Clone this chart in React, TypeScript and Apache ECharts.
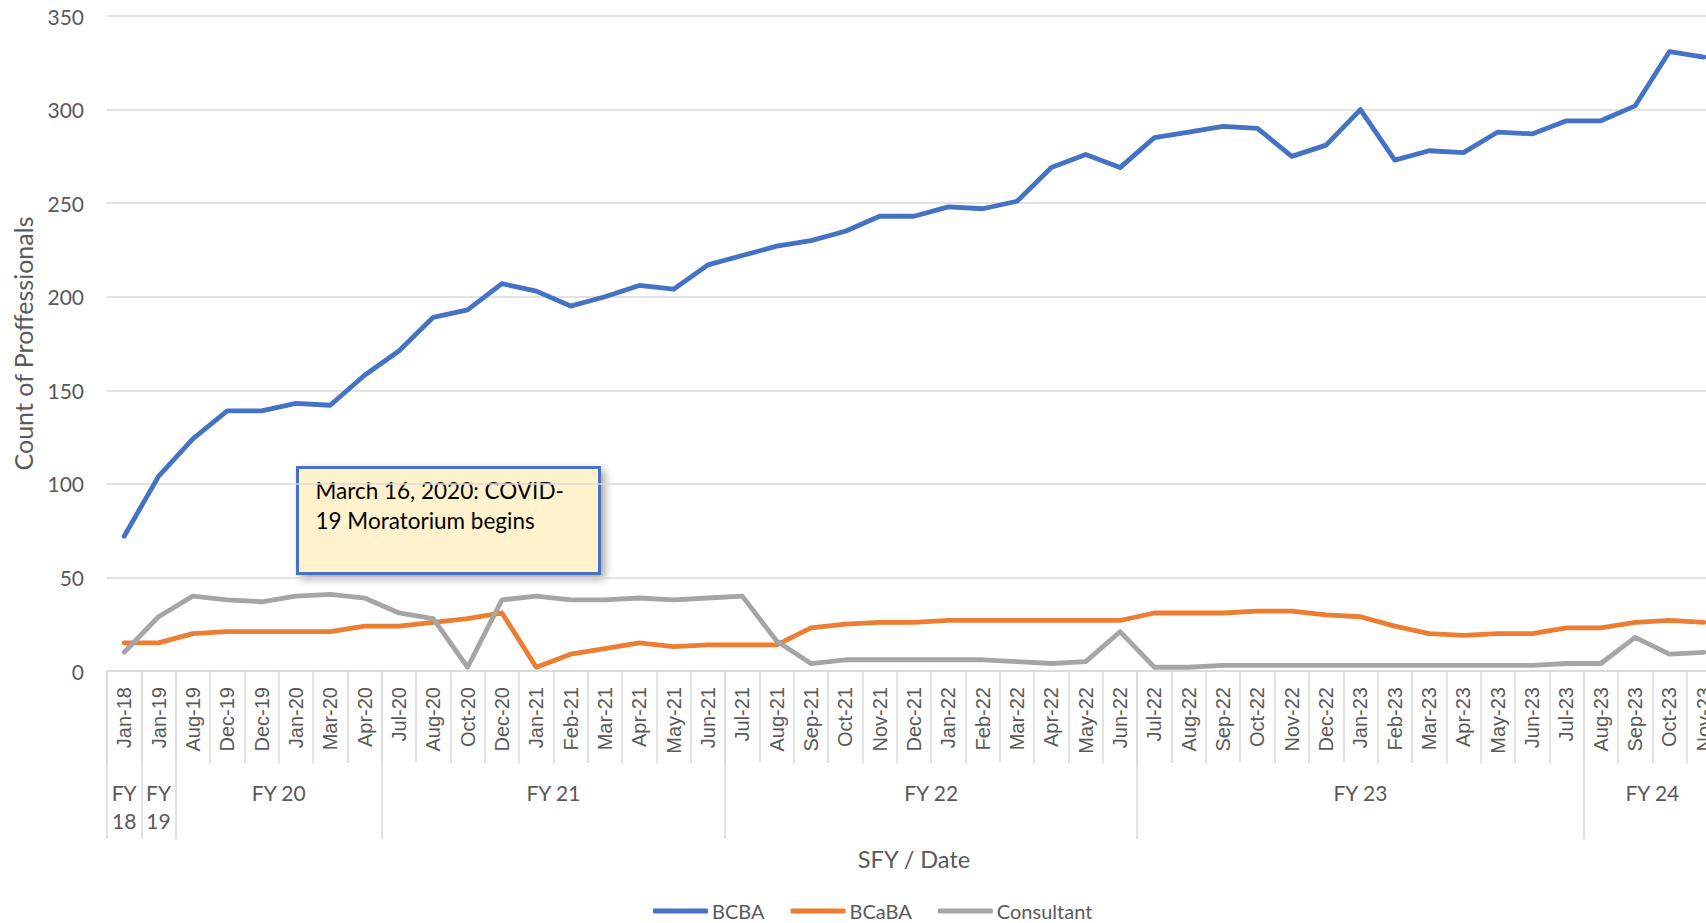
import React, { useEffect, useRef } from "react";
import * as echarts from "echarts";

const months = [
  "Jan-18", "Jan-19", "Aug-19", "Dec-19", "Dec-19", "Jan-20", "Mar-20", "Apr-20",
  "Jul-20", "Aug-20", "Oct-20", "Dec-20", "Jan-21", "Feb-21", "Mar-21", "Apr-21", "May-21", "Jun-21",
  "Jul-21", "Aug-21", "Sep-21", "Oct-21", "Nov-21", "Dec-21", "Jan-22", "Feb-22", "Mar-22", "Apr-22", "May-22", "Jun-22",
  "Jul-22", "Aug-22", "Sep-22", "Oct-22", "Nov-22", "Dec-22", "Jan-23", "Feb-23", "Mar-23", "Apr-23", "May-23", "Jun-23", "Jul-23",
  "Aug-23", "Sep-23", "Oct-23", "Nov-23",
];

const fyLabels = ["FY\n18", "FY\n19", "FY 20", "FY 21", "FY 22", "FY 23", "FY 24"];
const fySpans = [1, 1, 6, 10, 12, 13, 4];

const bcba = [
  72, 104, 124, 139, 139, 143, 142, 158,
  171, 189, 193, 207, 203, 195, 200, 206, 204, 217,
  222, 227, 230, 235, 243, 243, 248, 247, 251, 269, 276, 269,
  285, 288, 291, 290, 275, 281, 300, 273, 278, 277, 288, 287, 294,
  294, 302, 331, 328,
];
const bcaba = [
  15, 15, 20, 21, 21, 21, 21, 24,
  24, 26, 28, 31, 2, 9, 12, 15, 13, 14,
  14, 14, 23, 25, 26, 26, 27, 27, 27, 27, 27, 27,
  31, 31, 31, 32, 32, 30, 29, 24, 20, 19, 20, 20, 23,
  23, 26, 27, 26,
];
const consultant = [
  10, 29, 40, 38, 37, 40, 41, 39,
  31, 28, 2, 38, 40, 38, 38, 39, 38, 39,
  40, 16, 4, 6, 6, 6, 6, 6, 5, 4, 5, 21,
  2, 2, 3, 3, 3, 3, 3, 3, 3, 3, 3, 3, 4,
  4, 18, 9, 10,
];

const seriesNames = ["BCBA", "BCaBA", "Consultant"];
const seriesColors = ["#4472C4", "#ED7D31", "#A5A5A5"];
const yTicks = { min: 0, max: 350, interval: 50 };
const annotationText = "March 16, 2020: COVID-\n19 Moratorium begins";

const LABEL_FONT = "Lato";
const GRAY_TEXT = "#595959";
const GRID_LINE = "#D9D9D9";

export default function App() {
  const ref = useRef<HTMLDivElement>(null);

  useEffect(() => {
    if (!ref.current) return;
    const chart = echarts.init(ref.current, undefined, { renderer: "svg" });

    const boundaries: number[] = [0];
    const centers: number[] = [];
    fySpans.forEach((s, i) => {
      const start = boundaries[i];
      boundaries.push(start + s);
      centers.push(start + s / 2);
    });

    const seriesData = [bcba, bcaba, consultant];

    chart.setOption({
      animation: false,
      backgroundColor: "#ffffff",
      grid: { left: 107, right: 0, top: 16, bottom: 252, containLabel: false },
      legend: {
        data: seriesNames,
        left: 653,
        top: 901,
        padding: 0,
        icon: "roundRect",
        itemWidth: 55,
        itemHeight: 5,
        itemGap: 26,
        textStyle: { fontFamily: LABEL_FONT, fontSize: 20, color: GRAY_TEXT, padding: [0, 0, 0, -1] },
      },
      xAxis: [
        {
          type: "category",
          position: "bottom",
          data: months,
          boundaryGap: true,
          name: "SFY / Date",
          nameLocation: "middle",
          nameGap: 176,
          nameTextStyle: { fontFamily: LABEL_FONT, fontSize: 23.5, color: GRAY_TEXT },
          axisLine: { show: true, lineStyle: { color: GRID_LINE, width: 1.5 } },
          axisTick: { show: true, interval: 0, length: 92, lineStyle: { color: GRID_LINE, width: 1.5 } },
          axisLabel: {
            interval: 0,
            rotate: 90,
            margin: 16,
            fontFamily: "Liberation Sans",
            fontSize: 20,
            color: GRAY_TEXT,
          },
          splitLine: { show: false },
        },
        {
          type: "value",
          position: "bottom",
          min: 0,
          max: months.length,
          axisLine: { show: false },
          splitLine: { show: false },
          axisTick: {
            show: true,
            customValues: boundaries,
            length: 168,
            lineStyle: { color: GRID_LINE, width: 1.5 },
          },
          axisLabel: {
            show: true,
            customValues: centers,
            margin: 107,
            fontFamily: LABEL_FONT,
            fontSize: 21,
            lineHeight: 28,
            color: GRAY_TEXT,
            hideOverlap: false,
            formatter: (v: number) => {
              const idx = centers.findIndex((c) => Math.abs(c - v) < 1e-6);
              return idx >= 0 ? fyLabels[idx] : "";
            },
          },
        },
      ],
      yAxis: {
        type: "value",
        min: yTicks.min,
        max: yTicks.max,
        interval: yTicks.interval,
        name: "Count of Proffessionals",
        nameLocation: "middle",
        nameGap: 72,
        nameTextStyle: { fontFamily: LABEL_FONT, fontSize: 25, color: GRAY_TEXT },
        axisLine: { show: false },
        axisTick: { show: false },
        axisLabel: { fontFamily: LABEL_FONT, fontSize: 21, color: GRAY_TEXT, margin: 23 },
        splitLine: { show: true, lineStyle: { color: GRID_LINE, width: 1.5 } },
      },
      series: seriesNames.map((name, i) => ({
        name,
        type: "line",
        xAxisIndex: 0,
        data: seriesData[i],
        symbol: "none",
        smooth: false,
        itemStyle: { color: seriesColors[i] },
        lineStyle: { color: seriesColors[i], width: 4.8, cap: "round", join: "round" },
      })),
      graphic: [
        {
          type: "group",
          left: 296,
          top: 466,
          children: [
            {
              type: "rect",
              shape: { x: 0, y: 0, width: 302, height: 106 },
              style: {
                fill: "#FFF2CC",
                stroke: "#4472C4",
                lineWidth: 3,
                shadowBlur: 8,
                shadowOffsetX: 4,
                shadowOffsetY: 4,
                shadowColor: "rgba(0,0,0,0.35)",
              },
            },
            {
              type: "text",
              x: 18,
              y: 8,
              style: {
                text: annotationText,
                fontFamily: LABEL_FONT,
                fontSize: 22.5,
                lineHeight: 30,
                fill: "#000000",
              },
            },
          ],
        },
      ],
    });

    return () => chart.dispose();
  }, []);

  return (
    <div style={{ position: "absolute", left: 0, top: 0, width: 1706, height: 923, overflow: "hidden" }}>
      <div ref={ref} style={{ width: 1721, height: 923 }} />
    </div>
  );
}
